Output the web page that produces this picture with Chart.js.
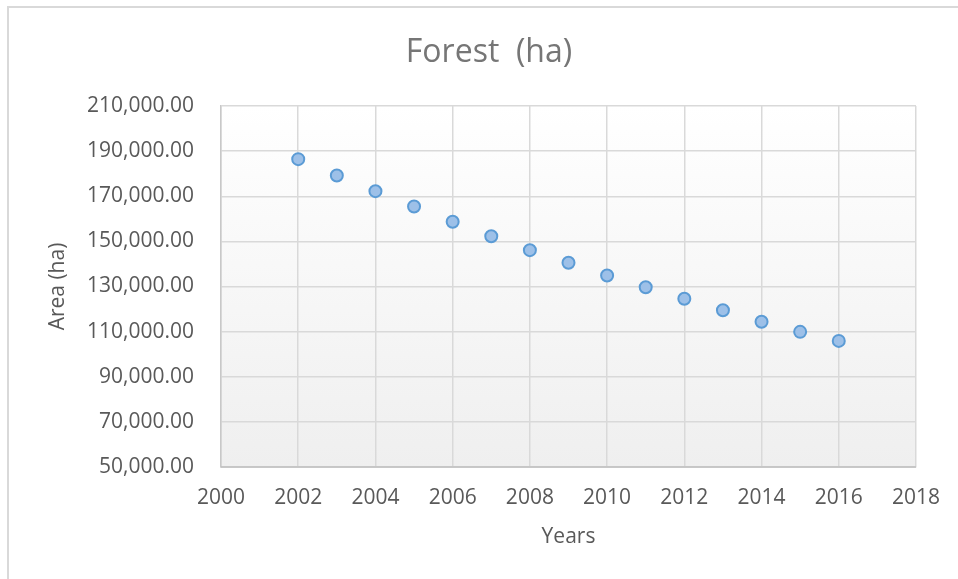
<!DOCTYPE html>
<html>
<head>
<meta charset="utf-8">
<title>Forest (ha)</title>
<script src="https://cdn.jsdelivr.net/npm/chart.js@4"></script>
<style>
  html, body { margin: 0; padding: 0; background: #ffffff; }
  #wrap { position: relative; width: 958px; height: 579px; }
</style>
</head>
<body>
<div id="wrap"><canvas id="chart" width="958" height="579"></canvas></div>
<script>
// Forest area by year
const years = [2002, 2003, 2004, 2005, 2006, 2007, 2008, 2009, 2010, 2011, 2012, 2013, 2014, 2015, 2016];
const forestArea = [186450, 179200, 172250, 165450, 158700, 152300, 146100, 140500, 134900, 129700, 124550, 119500, 114350, 109900, 105900];

// Axis ranges and tick steps
const xRange = [2000, 2018];
const xStep = 2;
const yRange = [50000, 210000];
const yStep = 20000;

const chartTitle = 'Forest  (ha)';

const FONT = "'Open Sans', 'DejaVu Sans', sans-serif";
const TEXT = '#595959';
const GRID = '#d9d9d9';

// Plot area gradient fill, outer frame lines and the chart title
const frame = {
  id: 'frame',
  beforeDraw(chart) {
    const { ctx, chartArea: a } = chart;
    ctx.save();
    const g = ctx.createLinearGradient(0, a.top, 0, a.bottom);
    g.addColorStop(0, '#ffffff');
    g.addColorStop(1, '#efefef');
    ctx.fillStyle = g;
    ctx.fillRect(a.left, a.top, a.right - a.left, a.bottom - a.top);
    ctx.strokeStyle = GRID;
    ctx.lineWidth = 2;
    ctx.beginPath();
    ctx.moveTo(8, chart.height);
    ctx.lineTo(8, 7);
    ctx.lineTo(chart.width, 7);
    ctx.stroke();

    ctx.fillStyle = '#767676';
    ctx.font = "32px " + FONT;
    ctx.textAlign = 'center';
    ctx.textBaseline = 'middle';
    ctx.fillText(chartTitle, (8 + chart.width) / 2 + 6, 53);
    ctx.restore();
  },
  afterDatasetsDraw(chart) {
    const { ctx, chartArea: a } = chart;
    ctx.save();
    ctx.strokeStyle = '#bfbfbf';
    ctx.lineWidth = 1.5;
    ctx.beginPath();
    ctx.moveTo(a.left, a.bottom);
    ctx.lineTo(a.right, a.bottom);
    ctx.stroke();
    ctx.restore();
  }
};

new Chart(document.getElementById('chart'), {
  type: 'scatter',
  data: {
    datasets: [{
      label: 'Forest (ha)',
      data: years.map((y, i) => ({ x: y, y: forestArea[i] })),
      pointRadius: 6,
      pointHoverRadius: 6,
      pointBorderWidth: 2,
      pointBackgroundColor: '#9dc0e8',
      pointBorderColor: '#5b9bd5'
    }]
  },
  plugins: [frame],
  options: {
    responsive: false,
    animation: false,
    layout: { padding: { left: 0, right: 42, top: 106, bottom: 0 } },
    plugins: {
      legend: { display: false },
      tooltip: { enabled: false },
      title: { display: false }
    },
    scales: {
      x: {
        type: 'linear',
        min: xRange[0],
        max: xRange[1],
        afterFit(scale) { scale.height = 112; },
        ticks: {
          stepSize: xStep,
          color: TEXT,
          padding: 18,
          maxRotation: 0,
          font: { family: FONT, size: 21 },
          callback: v => String(v)
        },
        grid: { color: GRID, lineWidth: 1.5, drawTicks: false },
        border: { color: GRID, width: 1.5 },
        title: {
          display: true,
          text: 'Years',
          color: TEXT,
          font: { family: FONT, size: 21, lineHeight: 1.2 },
          padding: { top: 0, bottom: 29 }
        }
      },
      y: {
        min: yRange[0],
        max: yRange[1],
        afterFit(scale) { scale.width = 221; },
        ticks: {
          stepSize: yStep,
          color: TEXT,
          padding: 27,
          font: { family: FONT, size: 21 },
          callback: v => v.toLocaleString('en-US', { minimumFractionDigits: 2, maximumFractionDigits: 2 })
        },
        grid: { color: GRID, lineWidth: 1.5, drawTicks: false },
        border: { color: '#c8c8c8', width: 1.5 },
        title: {
          display: true,
          text: 'Area (ha)',
          color: TEXT,
          font: { family: FONT, size: 21, lineHeight: 1.2 },
          padding: { top: 45, bottom: 0 }
        }
      }
    }
  }
});
</script>
</body>
</html>
